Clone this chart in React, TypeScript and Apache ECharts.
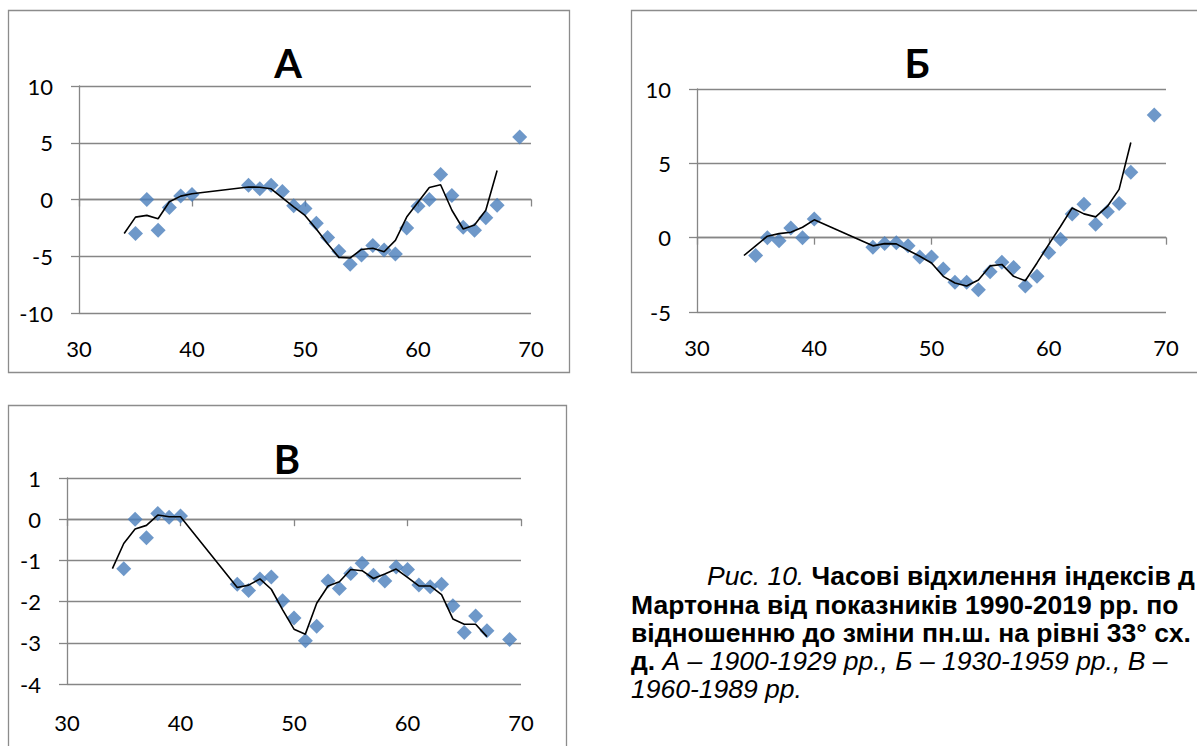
import React, { useEffect, useRef } from "react";
import * as echarts from "echarts";

// x values (years offset) of the scatter points and of the smoothed line
const pointYears = [35, 36, 37, 38, 39, 40, 45, 46, 47, 48, 49, 50, 51, 52, 53, 54, 55, 56, 57, 58, 59, 60, 61, 62, 63, 64, 65, 66, 67, 69];
const lineYears = [34, 35, 36, 37, 38, 39, 40, 45, 46, 47, 48, 49, 50, 51, 52, 53, 54, 55, 56, 57, 58, 59, 60, 61, 62, 63, 64, 65, 66, 67];

// Chart А (1900-1929)
const pointsA = [-3.0, 0.0, -2.7, -0.7, 0.3, 0.45, 1.25, 0.95, 1.25, 0.7, -0.55, -0.8, -2.1, -3.35, -4.55, -5.7, -4.9, -4.05, -4.45, -4.8, -2.5, -0.6, 0.0, 2.2, 0.35, -2.45, -2.7, -1.6, -0.5, 5.5];
const lineA = [-3.0, -1.55, -1.4, -1.7, -0.2, 0.3, 0.5, 1.1, 1.08, 0.94, 0.15, -0.65, -1.4, -2.6, -3.9, -5.1, -5.15, -4.4, -4.3, -4.6, -3.6, -1.55, -0.25, 1.05, 1.3, -0.95, -2.6, -2.25, -0.95, 2.55];

// Chart Б (1930-1959)
const pointsB = [-1.2, 0.0, -0.2, 0.65, 0.0, 1.25, -0.65, -0.4, -0.35, -0.55, -1.3, -1.3, -2.1, -3.0, -3.0, -3.5, -2.3, -1.65, -2.0, -3.25, -2.6, -1.0, -0.1, 1.6, 2.25, 0.9, 1.75, 2.3, 4.4, 8.25];
const lineB = [-1.2, -0.55, 0.1, 0.27, 0.36, 0.7, 1.2, -0.55, -0.4, -0.42, -0.85, -1.25, -1.7, -2.6, -3.05, -3.25, -2.85, -1.9, -1.8, -2.6, -2.9, -1.7, -0.45, 0.75, 2.0, 1.6, 1.4, 2.1, 3.25, 6.4];

// Chart В (1960-1989)
const pointsV = [-1.2, 0.0, -0.45, 0.14, 0.05, 0.08, -1.58, -1.73, -1.45, -1.4, -1.98, -2.4, -2.95, -2.6, -1.5, -1.68, -1.32, -1.07, -1.36, -1.5, -1.16, -1.22, -1.6, -1.64, -1.58, -2.1, -2.75, -2.35, -2.71, -2.92];
const lineV = [-1.2, -0.59, -0.24, -0.15, 0.1, 0.06, 0.06, -1.66, -1.6, -1.45, -1.7, -2.2, -2.67, -2.79, -2.04, -1.62, -1.52, -1.22, -1.25, -1.44, -1.33, -1.21, -1.41, -1.62, -1.62, -1.83, -2.42, -2.55, -2.55, -2.85];

const chartTitles = ["А", "Б", "В"];
const xTicks = { min: 30, max: 70, interval: 10 };
const yRanges = [
  { min: -10, max: 10, interval: 5 },
  { min: -5, max: 10, interval: 5 },
  { min: -4, max: 1, interval: 1 },
];

const GRAY = "#868686";
const BLUE = "#4A7EBB";
const FONT = "Lato";
const CAP_SIZE = 26.5;

export default function App() {
  const ref = useRef<HTMLDivElement>(null);
  useEffect(() => {
    if (!ref.current) return;
    const chart = echarts.init(ref.current, null, { renderer: "svg" });

    const grids = [
      { left: 79, top: 86, width: 452, height: 227 },
      { left: 697, top: 89, width: 469, height: 223 },
      { left: 67, top: 478, width: 454, height: 206 },
    ];
    const labelMargins = [24, 24, 27];
    const pts = [pointsA, pointsB, pointsV];
    const lines = [lineA, lineB, lineV];

    const xAxes: any[] = [];
    const yAxes: any[] = [];
    const series: any[] = [];
    grids.forEach((g, i) => {
      // label axis (bottom)
      xAxes.push({
        type: "value",
        gridIndex: i,
        position: "bottom",
        ...xTicks,
        axisLine: { show: false, onZero: false },
        axisTick: { show: false },
        splitLine: { show: false },
        axisLabel: { color: "#000", fontFamily: FONT, fontSize: 22, margin: labelMargins[i] },
      });
      // axis line crossing at zero with ticks
      xAxes.push({
        type: "value",
        gridIndex: i,
        position: "bottom",
        ...xTicks,
        axisLine: { show: true, onZero: true, lineStyle: { color: GRAY, width: 1.3 } },
        axisTick: { show: true, length: 7, lineStyle: { color: GRAY, width: 1.3 } },
        splitLine: { show: false },
        axisLabel: { show: false },
      });
      yAxes.push({
        type: "value",
        gridIndex: i,
        ...yRanges[i],
        axisLine: { show: true, lineStyle: { color: GRAY, width: 1.3 } },
        axisTick: { show: true, length: 8, lineStyle: { color: GRAY, width: 1.3 } },
        splitLine: { show: true, lineStyle: { color: GRAY, width: 1.3 } },
        axisLabel: { color: "#000", fontFamily: FONT, fontSize: 22, margin: 26 },
      });
      series.push({
        type: "scatter",
        xAxisIndex: i * 2,
        yAxisIndex: i,
        symbol: "diamond",
        symbolSize: 15,
        itemStyle: { color: BLUE },
        data: pointYears.map((x, k) => [x, pts[i][k]]),
        z: 2,
      });
      series.push({
        type: "line",
        xAxisIndex: i * 2,
        yAxisIndex: i,
        showSymbol: false,
        symbol: "none",
        lineStyle: { color: "#000", width: 1.6 },
        data: lineYears.map((x, k) => [x, lines[i][k]]),
        z: 3,
      });
    });

    const frameStyle = { fill: "none", stroke: "#8C8C8C", lineWidth: 1.3 };
    const titleStyle = (t: string, x: number, y: number) => ({
      type: "text",
      x,
      y,
      style: {
        text: t,
        fontFamily: FONT,
        fontWeight: "bold",
        fontSize: 40,
        fill: "#000",
        align: "center",
        verticalAlign: "middle",
      },
    });
    const capLine = (x: number, y: number, text: string) => ({
      type: "text",
      x,
      y,
      style: {
        text,
        fontFamily: "Liberation Sans",
        fontSize: CAP_SIZE,
        lineHeight: 25,
        fill: "#000",
        verticalAlign: "middle",
        rich: {
          i: { fontFamily: "Liberation Sans", fontSize: CAP_SIZE, lineHeight: 25, fontStyle: "italic", fontWeight: "normal" },
          b: { fontFamily: "Liberation Sans", fontSize: CAP_SIZE, lineHeight: 25, fontWeight: "bold" },
        },
      },
    });

    chart.setOption({
      animation: false,
      backgroundColor: "#fff",
      grid: grids.map((g) => ({ ...g, containLabel: false })),
      xAxis: xAxes,
      yAxis: yAxes,
      series,
      graphic: [
        { type: "rect", shape: { x: 8.5, y: 10.5, width: 561, height: 362 }, style: frameStyle, silent: true },
        { type: "rect", shape: { x: 631.5, y: 10.5, width: 600, height: 362 }, style: frameStyle, silent: true },
        { type: "rect", shape: { x: 8.5, y: 405.5, width: 558, height: 400 }, style: frameStyle, silent: true },
        titleStyle(chartTitles[0], 288, 63),
        titleStyle(chartTitles[1], 917, 63),
        titleStyle(chartTitles[2], 287, 459),
        capLine(707, 576, "{i|Рис. 10.}{b| Часові відхилення індексів д}"),
        capLine(631, 605, "{b|Мартонна від показників 1990-2019 рр. по}"),
        capLine(631, 633, "{b|відношенню до зміни пн.ш. на рівні 33° сх.}"),
        capLine(631, 661, "{b|д.}{i| А – 1900-1929 рр., Б – 1930-1959 рр., В –}"),
        capLine(631, 689, "{i|1960-1989 рр.}"),
      ],
    });
    return () => chart.dispose();
  }, []);
  return (
    <div
      ref={ref}
      style={{ position: "absolute", left: 0, top: 0, width: 1197, height: 746, background: "#fff" }}
    />
  );
}
